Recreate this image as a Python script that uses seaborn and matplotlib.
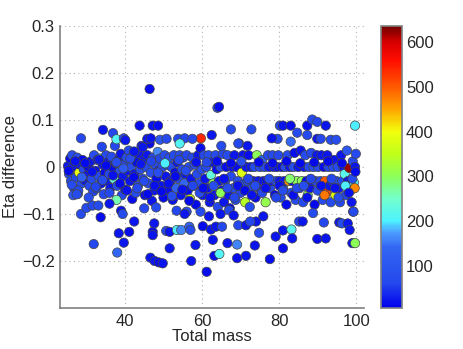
import matplotlib
matplotlib.use("Agg")
import matplotlib.pyplot as plt
import matplotlib.colors as mcolors
import matplotlib.cm as cm
import numpy as np
import pandas as pd
import seaborn as sns

# --- data (total mass, eta difference, colour value) ---
mass_a = [25.2, 25.5, 25.8, 26.0, 26.3, 26.5, 26.8, 26.6, 27.0, 27.3, 27.6, 27.8, 28.1, 28.4, 28.7,
          29.0, 29.3, 29.6, 29.9, 30.2, 30.5, 30.8, 31.1, 31.4, 31.8, 32.0, 32.3, 32.6, 32.9, 33.2,
          33.5, 33.8, 34.0, 34.2, 34.5, 34.8, 35.1, 35.4]
eta_a = [0.002, -0.015, 0.018, -0.03, 0.025, 0.0, -0.045, -0.06, 0.012, -0.022, 0.02, -0.057, -0.012,
         0.005, -0.035, 0.015, -0.005, -0.028, 0.008, -0.018, 0.0, -0.04, 0.012, -0.025, -0.052, 0.025,
         -0.008, -0.045, 0.015, -0.02, 0.018, -0.035, 0.043, 0.005, -0.058, -0.012, 0.025, -0.03]
snr_a = [25, 68, 15, 62, 75, 22, 60, 100, 18, 65, 72, 110, 390, 25, 68, 15, 62, 22, 75, 25,
         12, 65, 22, 72, 60, 75, 18, 62, 25, 68, 220, 22, 60, 25, 65, 15, 68, 25]

mass_b = [35.6, 35.9, 36.2, 36.5, 36.8, 37.1, 37.4, 37.7, 38.0, 38.3, 38.6, 38.9, 39.2, 39.5, 39.8,
          40.1, 40.4, 40.7, 41.0, 41.3, 41.6, 41.9, 42.2, 42.5, 42.8, 43.1, 43.4, 43.7, 44.0, 44.3,
          44.6, 44.9]
eta_b = [0.01, -0.015, -0.045, 0.022, 0.0, -0.025, 0.045, 0.008, -0.04, 0.015, -0.01, 0.028, -0.06,
         -0.02, 0.005, -0.048, 0.02, -0.008, 0.035, -0.03, 0.0, -0.068, 0.025, -0.015, -0.055, 0.01,
         -0.04, 0.028, -0.005, 0.045, -0.025, 0.015]
snr_b = [22, 65, 25, 72, 15, 230, 62, 25, 68, 18, 75, 22, 60, 25, 65, 15, 68, 25, 62, 22,
         75, 18, 65, 25, 72, 15, 62, 25, 68, 22, 60, 25]

mass_c = [45.2, 45.5, 45.8, 46.1, 46.4, 46.7, 47.0, 47.3, 47.6, 47.9, 48.2, 48.5, 48.8, 49.1, 49.4,
          49.7, 50.0, 50.3, 50.6, 50.9, 51.2, 51.5, 51.8, 52.1, 52.4, 52.7, 53.0, 53.3, 53.6, 53.9,
          54.2, 54.5, 54.8]
eta_c = [-0.06, 0.0, 0.025, -0.035, 0.05, -0.012, -0.072, 0.02, -0.05, 0.005, -0.025, 0.032, -0.008,
         0.018, -0.04, 0.0, -0.065, 0.025, -0.02, 0.005, -0.048, 0.02, -0.03, 0.0, -0.07, 0.025,
         -0.012, -0.045, 0.01, -0.025, 0.025, -0.06, -0.005]
snr_c = [18, 68, 25, 62, 15, 75, 22, 65, 25, 72, 18, 160, 25, 62, 22, 68, 15, 75, 25, 65,
         18, 72, 25, 62, 22, 68, 15, 130, 25, 65, 75, 22, 68]

mass_d = [55.1, 55.4, 55.7, 56.0, 56.3, 56.6, 56.9, 57.2, 57.5, 57.8, 58.1, 58.4, 58.7, 59.0, 59.3,
          59.6, 59.9, 60.2, 60.5, 60.8, 61.1, 61.4, 61.7, 62.0, 62.3, 62.6, 62.9, 63.2, 63.5, 63.8,
          64.1, 64.4, 64.8]
eta_d = [0.02, -0.035, -0.015, 0.025, -0.05, 0.0, -0.068, -0.025, 0.02, -0.04, 0.005, -0.08, -0.015,
         0.025, -0.035, 0.04, -0.005, -0.06, 0.025, -0.025, 0.0, -0.045, 0.025, -0.075, -0.017, 0.01,
         -0.035, -0.06, 0.025, -0.005, -0.085, -0.03, 0.0]
snr_d = [68, 140, 25, 65, 18, 72, 370, 25, 62, 22, 75, 15, 68, 25, 65, 18, 72, 25, 62, 22,
         68, 18, 75, 25, 230, 22, 300, 25, 68, 18, 65, 25, 72]

mass_e = [65.1, 65.4, 65.7, 66.0, 66.3, 66.6, 66.9, 67.2, 67.5, 67.8, 68.1, 68.4, 68.7, 69.0, 69.3,
          69.6, 70.0, 70.3, 70.6, 70.9, 71.2, 71.5, 71.8, 72.1, 72.4, 72.7, 73.0, 73.3, 73.6, 73.9,
          74.2, 74.6]
eta_e = [-0.05, 0.028, -0.075, -0.03, 0.0, 0.025, -0.06, -0.088, -0.02, 0.0, -0.045, 0.025, -0.07,
         0.0, -0.03, 0.05, -0.055, -0.012, 0.025, -0.035, -0.075, 0.0, -0.03, 0.025, -0.085, 0.0,
         -0.045, -0.03, 0.0, -0.065, 0.025, -0.03]
snr_e = [22, 65, 25, 68, 18, 72, 25, 15, 65, 22, 68, 25, 62, 18, 75, 25, 65, 380, 22, 68,
         340, 25, 65, 18, 72, 25, 62, 22, 68, 15, 300, 25]

mass_f = [75.0, 75.3, 75.6, 75.9, 76.2, 76.5, 76.8, 77.1, 77.4, 77.7, 78.0, 78.3, 78.6, 78.9, 79.2,
          79.5, 79.8, 80.1, 80.4, 80.7, 81.0, 81.3, 81.6, 81.9, 82.2, 82.5, 82.8, 83.1, 83.4, 83.7,
          84.0, 84.3, 84.6]
eta_f = [0.0, -0.05, 0.015, -0.03, 0.0, -0.075, -0.03, 0.025, 0.0, -0.045, -0.03, 0.025, 0.0, -0.06,
         -0.03, 0.0, 0.025, -0.03, -0.065, 0.0, -0.045, -0.03, 0.0, -0.08, 0.025, -0.03, 0.0, -0.055,
         -0.03, 0.0, 0.03, -0.07, -0.03]
snr_f = [68, 22, 130, 25, 65, 310, 18, 72, 25, 62, 22, 68, 25, 15, 75, 22, 65, 25, 68, 18,
         72, 25, 62, 15, 68, 460, 22, 65, 25, 75, 18, 68, 300]

mass_g = [85.0, 85.3, 85.6, 85.9, 86.2, 86.5, 86.8, 87.1, 87.4, 87.7, 88.0, 88.3, 88.6, 88.9, 89.2,
          89.5, 89.8, 90.1, 90.4, 90.7, 91.0, 91.3, 91.6, 91.9, 92.2, 92.5, 92.8, 93.1, 93.4, 93.7,
          94.0, 94.3, 94.6, 94.9]
eta_g = [0.0, -0.045, 0.035, -0.03, -0.075, 0.0, 0.025, -0.03, -0.06, 0.0, -0.045, 0.03, -0.03, 0.0,
         -0.08, -0.03, 0.025, 0.0, -0.05, -0.03, 0.025, -0.07, 0.0, -0.03, -0.055, 0.025, 0.0, -0.04,
         -0.075, -0.03, 0.0, 0.015, -0.06, -0.03]
snr_g = [25, 68, 22, 300, 65, 25, 72, 18, 290, 68, 25, 62, 22, 75, 15, 65, 25, 68, 22, 62,
         25, 72, 18, 500, 520, 25, 65, 22, 68, 25, 62, 22, 380, 68]

mass_h = [95.2, 95.5, 95.8, 96.1, 96.4, 96.7, 97.0, 97.3, 97.6, 97.9, 98.2, 98.5, 98.8, 99.1, 99.4,
          99.7, 99.9, 99.6, 99.2]
eta_h = [0.0, -0.045, -0.075, 0.025, -0.03, 0.0, -0.015, -0.06, 0.035, -0.03, -0.002, -0.05, -0.075,
         0.012, -0.033, 0.0, 0.028, -0.045, -0.095]
snr_h = [68, 22, 65, 25, 68, 18, 220, 62, 100, 22, 620, 68, 25, 65, 210, 22, 68, 470, 25]

# points filling the gaps inside the band
mass_k = [25.4, 26.2, 27.1, 27.9, 28.8, 29.7, 30.6, 31.5, 32.4, 33.3, 34.2, 35.1, 36.0, 36.9, 37.8,
          38.7, 39.6, 40.5, 41.4, 42.3, 43.2, 44.1, 45.0, 45.9, 46.8, 47.7, 48.6, 49.5, 50.4, 51.3,
          52.2, 53.1, 54.0, 54.9, 55.8, 56.7, 57.6, 58.5, 59.4, 60.3, 61.2, 62.1, 63.0, 63.9, 64.8,
          65.7, 66.6, 67.5, 68.4, 69.3, 70.2, 71.1, 72.0, 72.9, 73.8, 74.7, 75.6, 76.5, 77.4, 78.3,
          79.2, 80.1, 81.0, 81.9, 82.8, 83.7, 84.6, 85.5, 86.4, 87.3, 88.2, 89.1, 90.0, 90.9, 91.8,
          92.7, 93.6, 94.5, 95.4, 96.3, 97.2, 98.1, 99.0, 99.8]
eta_k = [-0.008, -0.038, 0.012, -0.05, -0.022, 0.008, -0.065, -0.01, -0.042, 0.016, -0.028, 0.003,
         -0.055, -0.018, 0.01, -0.035, -0.003, -0.05, 0.018, -0.022, -0.045, 0.006, -0.03, -0.058,
         0.012, -0.04, -0.012, -0.052, 0.008, -0.035, -0.062, -0.02, 0.015, -0.048, -0.008, -0.072,
         -0.04, 0.01, -0.055,
         -0.045, 0.01, -0.065, -0.04, 0.012, -0.055, -0.025, -0.045, 0.008, -0.065, -0.04, 0.012,
         -0.05, -0.025, -0.06, -0.04, 0.01, -0.055, -0.045, -0.025, 0.008, -0.065, -0.04, -0.05,
         0.012, -0.025, -0.06, -0.045, 0.008, -0.04, -0.065, -0.025, 0.01, -0.05, -0.04, -0.06,
         0.012, -0.025, -0.045, -0.065, 0.008, -0.04, -0.055, -0.025, -0.01]
snr_k = [15, 70, 20, 65, 120, 15, 75, 20, 60, 25, 70, 15, 65, 20, 75, 15, 110, 20, 70, 15,
         65, 25, 70, 15, 60, 20, 75, 15, 200, 20, 70, 15, 65, 20, 75, 15, 60, 20, 70,
         15, 65, 20, 75, 15, 300, 20, 70, 15, 65, 20, 75, 15, 60, 20, 70, 15, 65, 20, 75,
         15, 60, 20, 70, 15, 290, 20, 65, 15, 75, 20, 60, 15, 70, 20, 480, 15, 65, 20, 75,
         15, 200, 20, 70, 15]

# scattered points above the band
mass_hi = [46.4, 64.0, 64.4, 28.6, 34.3, 36.9, 37.8, 39.7, 40.1, 43.8, 47.2, 48.6, 45.8, 46.7, 49.1,
           50.8, 53.8, 55.5, 59.7, 62.5, 67.5, 69.4, 71.8, 72.8, 80.2, 81.0, 83.0, 84.7, 87.3, 88.6,
           89.9, 92.1, 99.7, 87.3, 89.9, 90.8, 93.4, 94.8, 83.0, 79.6, 78.1, 65.0, 57.5, 44.6, 42.4,
           54.2]
eta_hi = [0.166, 0.126, 0.128, 0.061, 0.079, 0.072, 0.059, 0.061, 0.057, 0.088, 0.088, 0.088, 0.060,
          0.061, 0.058, 0.060, 0.060, 0.061, 0.061, 0.068, 0.080, 0.050, 0.045, 0.080, 0.088, 0.088,
          0.088, 0.073, 0.088, 0.101, 0.096, 0.088, 0.088, 0.068, 0.060, 0.060, 0.058, 0.058, 0.054,
          0.060, 0.061, 0.045, 0.060, 0.042, 0.033, 0.050]
snr_hi = [18, 68, 18, 65, 22, 62, 210, 68, 25, 18, 22, 18, 25, 22, 100, 68, 65, 62, 540, 25,
          68, 65, 25, 68, 62, 22, 18, 68, 18, 68, 65, 22, 200, 68, 25, 65, 68, 75, 140, 62,
          22, 68, 62, 25, 22, 210]

# scattered points below the band
mass_lo = [31.9, 38.0, 39.7, 38.4, 41.1, 42.4, 39.0, 39.4, 33.7, 28.6, 30.0, 31.6, 33.1, 37.8, 46.6,
           47.7, 48.8, 49.8, 47.2, 47.2, 47.6, 48.1, 50.7, 51.6, 51.6, 53.4, 53.5, 54.6, 56.0, 56.7,
           57.0, 57.2, 58.3, 60.2, 59.6, 61.2, 62.3, 62.8, 63.2, 64.5, 63.6, 65.2, 66.6, 69.1, 69.1,
           71.4, 69.4, 71.4, 73.7, 74.8, 74.0, 72.5, 77.6, 79.1, 81.0, 81.0, 83.2, 83.4, 85.2, 86.1,
           89.9, 92.1, 91.6, 95.6, 96.3, 97.8, 98.3, 99.0, 99.7, 99.3, 64.8, 67.0, 61.8, 88.8, 75.9,
           27.5, 36.0, 45.0, 55.5, 68.2]
eta_lo = [-0.164, -0.182, -0.161, -0.141, -0.138, -0.116, -0.093, -0.100, -0.107, -0.100, -0.087,
          -0.082, -0.082, -0.070, -0.193, -0.200, -0.203, -0.205, -0.138, -0.145, -0.120, -0.086,
          -0.136, -0.138, -0.173, -0.093, -0.134, -0.134, -0.095, -0.127, -0.134, -0.200, -0.166,
          -0.126, -0.095, -0.223, -0.133, -0.155, -0.189, -0.185, -0.127, -0.127, -0.162, -0.165,
          -0.194, -0.189, -0.124, -0.124, -0.167, -0.140, -0.116, -0.116, -0.196, -0.148, -0.173,
          -0.135, -0.133, -0.152, -0.116, -0.116, -0.153, -0.152, -0.118, -0.118, -0.120, -0.120,
          -0.134, -0.162, -0.162, -0.095, -0.100, -0.092, -0.105, -0.098, -0.105, -0.058, -0.078,
          -0.088, -0.100, -0.103]
snr_lo = [65, 140, 25, 22, 18, 25, 22, 68, 18, 72, 68, 65, 68, 260, 22, 25, 18, 22, 18, 22,
          25, 68, 68, 22, 25, 65, 200, 160, 75, 130, 68, 22, 25, 18, 68, 18, 25, 22, 18, 210,
          25, 65, 25, 160, 18, 22, 65, 25, 22, 68, 25, 65, 18, 25, 18, 25, 220, 22, 65, 25,
          18, 22, 65, 25, 68, 22, 25, 22, 300, 68, 25, 65, 22, 68, 25, 72, 25, 65, 25, 22]

X_TICKS = [40, 60, 80, 100]
Y_TICKS = [-0.2, -0.1, 0, 0.1, 0.2, 0.3]
Y_TICK_LABELS = ["\u22120.2", "\u22120.1", "0", "0.1", "0.2", "0.3"]
CBAR_TICKS = [100, 200, 300, 400, 500, 600]
C_MIN, C_MAX = 6, 636

# colour scale as seen on the reference colour bar (value, rgb)
CMAP_STOPS = [6, 60, 140, 175, 200, 250, 300, 350, 400, 450, 500, 560, 600, 636]
CMAP_RGB = [(0.0, 0.0, 0.93), (0.14, 0.28, 0.93), (0.2, 0.4, 0.95), (0.3, 0.62, 1.0),
            (0.3, 0.95, 1.0), (0.45, 1.0, 0.8), (0.55, 1.0, 0.35), (0.75, 1.0, 0.1),
            (0.95, 1.0, 0.05), (1.0, 0.65, 0.0), (1.0, 0.35, 0.0), (1.0, 0.05, 0.0),
            (0.85, 0.0, 0.0), (0.45, 0.0, 0.0)]

sns.set_theme(style="white")
plt.rcParams["font.family"] = ["Liberation Sans", "DejaVu Sans"]

df = pd.DataFrame({
    "mass": mass_a + mass_b + mass_c + mass_d + mass_e + mass_f + mass_g + mass_h + mass_k
            + mass_hi + mass_lo,
    "eta": eta_a + eta_b + eta_c + eta_d + eta_e + eta_f + eta_g + eta_h + eta_k + eta_hi + eta_lo,
    "snr": snr_a + snr_b + snr_c + snr_d + snr_e + snr_f + snr_g + snr_h + snr_k + snr_hi + snr_lo,
})

stops = [(v - C_MIN) / (C_MAX - C_MIN) for v in CMAP_STOPS]
cmap = mcolors.LinearSegmentedColormap.from_list("ref_jet", list(zip(stops, CMAP_RGB)), N=256)
norm = mcolors.Normalize(vmin=C_MIN, vmax=C_MAX)

fig = plt.figure(figsize=(4.63, 3.49), dpi=100)
ax = fig.add_axes([0.130, 0.1175, 0.656, 0.808])
cax = fig.add_axes([0.823, 0.1175, 0.0447, 0.808])

sns.scatterplot(
    data=df, x="mass", y="eta", hue="snr", palette=cmap, hue_norm=norm,
    s=45, edgecolor="#454545", linewidth=0.5, legend=False, ax=ax,
)

ax.set_xlim(23.2, 102)
ax.set_ylim(-0.3, 0.3)
ax.set_xticks(X_TICKS)
ax.set_yticks(Y_TICKS)
ax.set_yticklabels(Y_TICK_LABELS)
ax.grid(True, linestyle=(0, (1, 3)), color="#b0b0b0", linewidth=0.8)
ax.set_axisbelow(True)
for side in ["top", "right"]:
    ax.spines[side].set_visible(False)
for side in ["left", "bottom"]:
    ax.spines[side].set_color("#808080")
    ax.spines[side].set_linewidth(1.2)
ax.tick_params(direction="in", length=3, color="#808080", labelsize=12, pad=4)
ax.set_xlabel("Total mass", fontsize=12, labelpad=0)
ax.set_ylabel("Eta difference", fontsize=12)
ax.yaxis.set_label_coords(-0.163, 0.5)
ax.yaxis.label.set_va("center")

sm = cm.ScalarMappable(norm=norm, cmap=cmap)
cb = fig.colorbar(sm, cax=cax, ticks=CBAR_TICKS)
cb.outline.set_edgecolor("#808080")
cb.outline.set_linewidth(1.2)
cax.tick_params(direction="in", length=3, color="#404040", labelsize=12, pad=3)

fig.savefig("out.png", dpi=100)
